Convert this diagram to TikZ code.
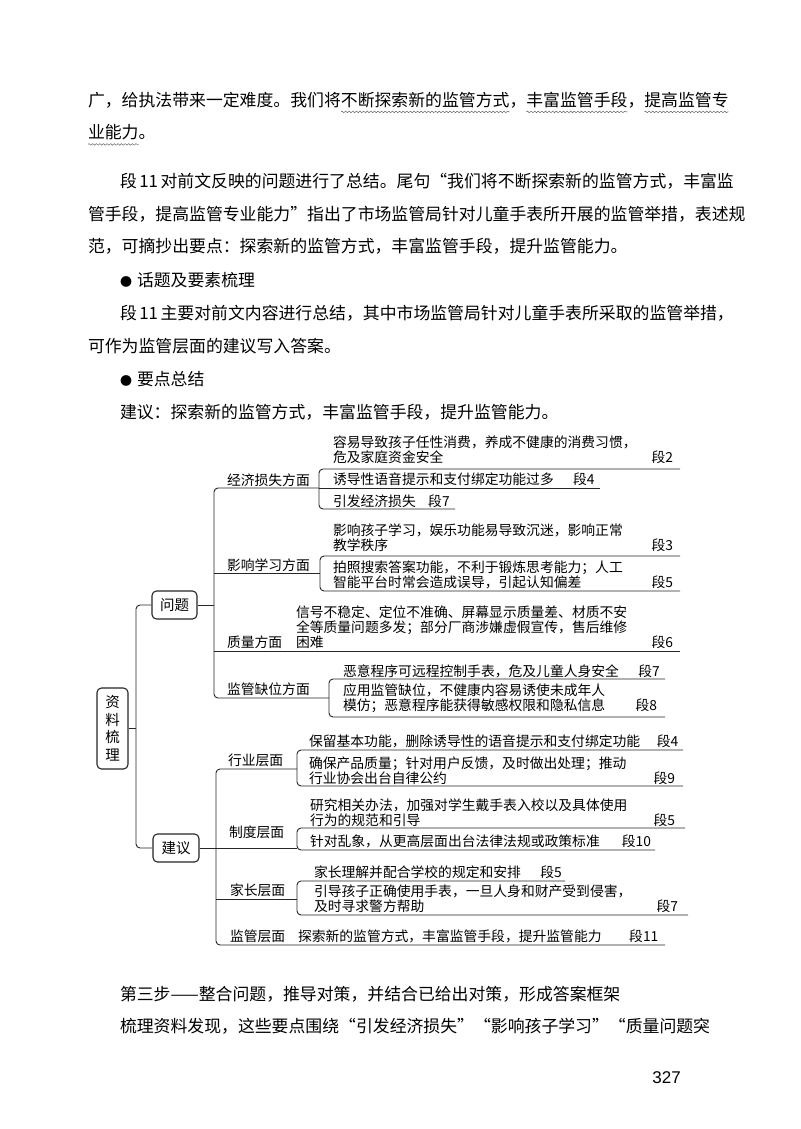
\documentclass[tikz,border=0pt]{standalone}
\usepackage{fontspec}
\setmainfont{Noto Sans CJK SC}
\newfontfamily\numfont{Liberation Sans}
\usetikzlibrary{decorations.pathmorphing}
\XeTeXlinebreaklocale "zh"
\XeTeXlinebreakskip=0pt plus 3pt minus 0.5pt
\newcommand\bodysz{\fontsize{16.86}{20}\selectfont}
\newcommand\mapsz{\fontsize{13.8}{15}\selectfont}
\newcommand\boxsz{\fontsize{14.5}{17.5}\selectfont}
\newcommand\duan[1]{\hspace{0pt plus 1filll}段#1}
\newcommand\jline[2]{\makebox[#1][s]{#2}}
\begin{document}
\begin{tikzpicture}[x=1pt,y=-1pt,
  body/.style={anchor=west, inner sep=0pt, outer sep=0pt, font=\bodysz, text height=14.8pt, text depth=2pt},
  maptext/.style={anchor=south west, inner sep=0pt, outer sep=0pt, font=\mapsz},
  mapblock/.style={maptext, align=left, text width=#1},
  mbox/.style={draw=black!85, line width=1.1pt, rounded corners=4.5pt, inner sep=0pt, font=\boxsz, align=center},
  conn/.style={draw=black!85, line width=0.9pt},
  bendline/.style={conn, rounded corners=4pt},
  wavy/.style={draw=black!60, line width=0.5pt, decorate, decoration={snake, amplitude=0.8pt, segment length=3.6pt}}
]
\useasboundingbox (0,0) rectangle (800,1129);
\fill[white] (0,0) rectangle (800,1129);

% ---------- body text ----------
\node[body] (t1a) at (88,100) {广，给执法带来一定难度。我们将};
\node[body] (t1b) at (t1a.east) {不断探索新的监管方式};
\node[body] (t1c) at (t1b.east) {，};
\node[body] (t1d) at (t1c.east) {丰富监管手段};
\node[body] (t1e) at (t1d.east) {，};
\node[body] (t1f) at (t1e.east) {提高监管专};
\node[body] (t2a) at (88,132.5) {业能力};
\node[body] (t2b) at (t2a.east) {。};
\draw[wavy] ([yshift=-3.5pt]t1b.south west) -- ([yshift=-3.5pt]t1b.south east);
\draw[wavy] ([yshift=-3.5pt]t1d.south west) -- ([yshift=-3.5pt]t1d.south east);
\draw[wavy] ([yshift=-3.5pt]t1f.south west) -- ([yshift=-3.5pt]t1f.south east);
\draw[wavy] ([yshift=-3.5pt]t2a.south west) -- ([yshift=-3.5pt]t2a.south east);

\node[body] (t3) at (120,181) {\jline{592pt}{段 11 对前文反映的问题进行了总结。尾句“我们将不断探索新的监管方式，丰富监}};
\node[body] (t4) at (88,214) {\jline{624pt}{管手段，提高监管专业能力”指出了市场监管局针对儿童手表所开展的监管举措，表述规}};
\node[body] (t5) at (88,246.5) {范，可摘抄出要点：探索新的监管方式，丰富监管手段，提升监管能力。};
\node[body] (t6) at (120,280) {{\fontsize{12}{12}\selectfont ●}\hspace{5pt}话题及要素梳理};
\node[body] (t7) at (120,313) {\jline{592pt}{段 11 主要对前文内容进行总结，其中市场监管局针对儿童手表所采取的监管举措，}};
\node[body] (t8) at (88,346.5) {可作为监管层面的建议写入答案。};
\node[body] (t9) at (120,379.5) {{\fontsize{12}{12}\selectfont ●}\hspace{5pt}要点总结};
\node[body] (t10) at (120,412) {建议：探索新的监管方式，丰富监管手段，提升监管能力。};

\node[body] (b1) at (120,994) {第三步——整合问题，推导对策，并结合已给出对策，形成答案框架};
\node[body] (b2) at (120,1026) {\jline{592pt}{梳理资料发现，这些要点围绕“引发经济损失”“影响孩子学习”“质量问题突}};
\node[anchor=east, inner sep=0pt, font=\numfont\fontsize{17}{17}\selectfont] (pg) at (681,1078) {327};

% ---------- mind map: boxes ----------
\node[mbox, minimum width=31pt, minimum height=81pt] (root) at (112.5,728.5) {资\\料\\梳\\理};
\node[mbox, minimum width=45pt, minimum height=28pt] (wenti) at (174.5,605) {问题};
\node[mbox, minimum width=46pt, minimum height=28pt] (jianyi) at (176,848) {建议};

% ---------- problem branch labels ----------
\node[maptext] (econ) at (227,486.5) {经济损失方面};
\node[maptext] (learn) at (227,571.5) {影响学习方面};
\node[maptext] (qual) at (227,649) {质量方面};
\node[maptext] (gap) at (227,696) {监管缺位方面};

% ---------- problem leaves ----------
\node[mapblock=340pt] (e1) at (333,464) {容易导致孩子任性消费，养成不健康的消费习惯，\\危及家庭资金安全\duan{2}};
\node[maptext] (e2) at (333,486) {诱导性语音提示和支付绑定功能过多\hspace{1.4em}段4};
\node[maptext] (e3) at (333,507.5) {引发经济损失\hspace{0.9em}段7};
\node[mapblock=340pt] (l1) at (333,552) {影响孩子学习，娱乐功能易导致沉迷，影响正常\\教学秩序\duan{3}};
\node[mapblock=340pt] (l2) at (333,589) {拍照搜索答案功能，不利于锻炼思考能力；人工\\智能平台时常会造成误导，引起认知偏差\duan{5}};
\node[mapblock=377pt] (q1) at (296,649) {信号不稳定、定位不准确、屏幕显示质量差、材质不安\\全等质量问题多发；部分厂商涉嫌虚假宣传，售后维修\\困难\duan{6}};
\node[maptext] (g1) at (343,677.5) {恶意程序可远程控制手表，危及儿童人身安全\hspace{1.4em}段7};
\node[mapblock=314pt] (g2) at (343,713) {应用监管缺位，不健康内容易诱使未成年人\\模仿；恶意程序能获得敏感权限和隐私信息\duan{8}};

% ---------- suggestion branch labels ----------
\node[maptext] (ind) at (228,767) {行业层面};
\node[maptext] (inst) at (229,839) {制度层面};
\node[maptext] (par) at (230,897) {家长层面};
\node[maptext] (reg) at (230,943) {监管层面};

% ---------- suggestion leaves ----------
\node[maptext] (i1) at (309,748) {保留基本功能，删除诱导性的语音提示和支付绑定功能\hspace{1.2em}段4};
\node[mapblock=366pt] (i2) at (309,784.5) {确保产品质量；针对用户反馈，及时做出处理；推动\\行业协会出台自律公约\duan{9}};
\node[mapblock=365pt] (r1) at (310,826.5) {研究相关办法，加强对学生戴手表入校以及具体使用\\行为的规范和引导\duan{5}};
\node[maptext] (r2) at (310,848) {针对乱象，从更高层面出台法律法规或政策标准\hspace{1.6em}段10};
\node[maptext] (f1) at (314,879) {家长理解并配合学校的规定和安排\hspace{1.4em}段5};
\node[mapblock=364pt] (f2) at (314,913) {引导孩子正确使用手表，一旦人身和财产受到侵害，\\及时寻求警方帮助\duan{7}};
\node[maptext] (m1) at (298,943) {探索新的监管方式，丰富监管手段，提升监管能力\hspace{2em}段11};

% ---------- connectors: root ----------
\coordinate (rbus) at (136,728.5);
\draw[bendline] (wenti.west) -| (rbus) |- (jianyi.west);
\draw[conn] (root.east) -- (rbus);

% ---------- connectors: problems ----------
\coordinate (pb-top) at (214,488);
\coordinate (pb-bot) at (214,698);
\coordinate (econ-j) at (319,488);
\coordinate (learn-j) at (320,573);
\coordinate (gap-j) at (329,698);
\coordinate (q-end) at (680,651);
\draw[bendline] (econ-j) -- (pb-top) -- (pb-bot) -- (gap-j);
\draw[conn] (wenti.east) -- (wenti.east -| pb-top);
\draw[conn] (pb-top |- learn-j) -- (learn-j);
\draw[conn] (pb-top |- q-end) -- (q-end);

\coordinate (e1-end) at (680,469);
\coordinate (e2-end) at (600,488);
\coordinate (e3-end) at (455,509);
\draw[bendline] (e1-end) -- (e1-end -| econ-j) -- (e3-end -| econ-j) -- (e3-end);
\draw[conn] (econ-j) -- (e2-end);

\coordinate (l1-end) at (680,556);
\coordinate (l2-end) at (680,591);
\draw[bendline] (l1-end) -- (l1-end -| learn-j) -- (l2-end -| learn-j) -- (l2-end);

\coordinate (g1-end) at (665,679);
\coordinate (g2-end) at (665,717);
\draw[bendline] (g1-end) -- (g1-end -| gap-j) -- (g2-end -| gap-j) -- (g2-end);

% ---------- connectors: suggestions ----------
\coordinate (sb-top) at (216,769);
\coordinate (sb-bot) at (216,945);
\coordinate (ind-j) at (297,769);
\coordinate (inst-j) at (297,848);
\coordinate (par-j) at (297,899);
\coordinate (m-end) at (665,945);
\draw[bendline] (ind-j) -- (sb-top) -- (sb-bot) -- (m-end);
\draw[conn] (jianyi.east) -- (jianyi.east -| sb-top);
\draw[conn] (sb-top |- inst-j) -- (inst-j);
\draw[conn] (sb-top |- par-j) -- (par-j);

\coordinate (i1-end) at (683,750);
\coordinate (i2-end) at (683,786);
\draw[bendline] (i1-end) -- (i1-end -| ind-j) -- (i2-end -| ind-j) -- (i2-end);

\coordinate (r1-end) at (685,828);
\coordinate (r2-end) at (655,850);
\draw[bendline] (r1-end) -- (r1-end -| inst-j) -- (r2-end -| inst-j) -- (r2-end);

\coordinate (f1-end) at (565,881);
\coordinate (f2-end) at (688,915);
\draw[bendline] (f1-end) -- (f1-end -| par-j) -- (f2-end -| par-j) -- (f2-end);
\end{tikzpicture}
\end{document}
